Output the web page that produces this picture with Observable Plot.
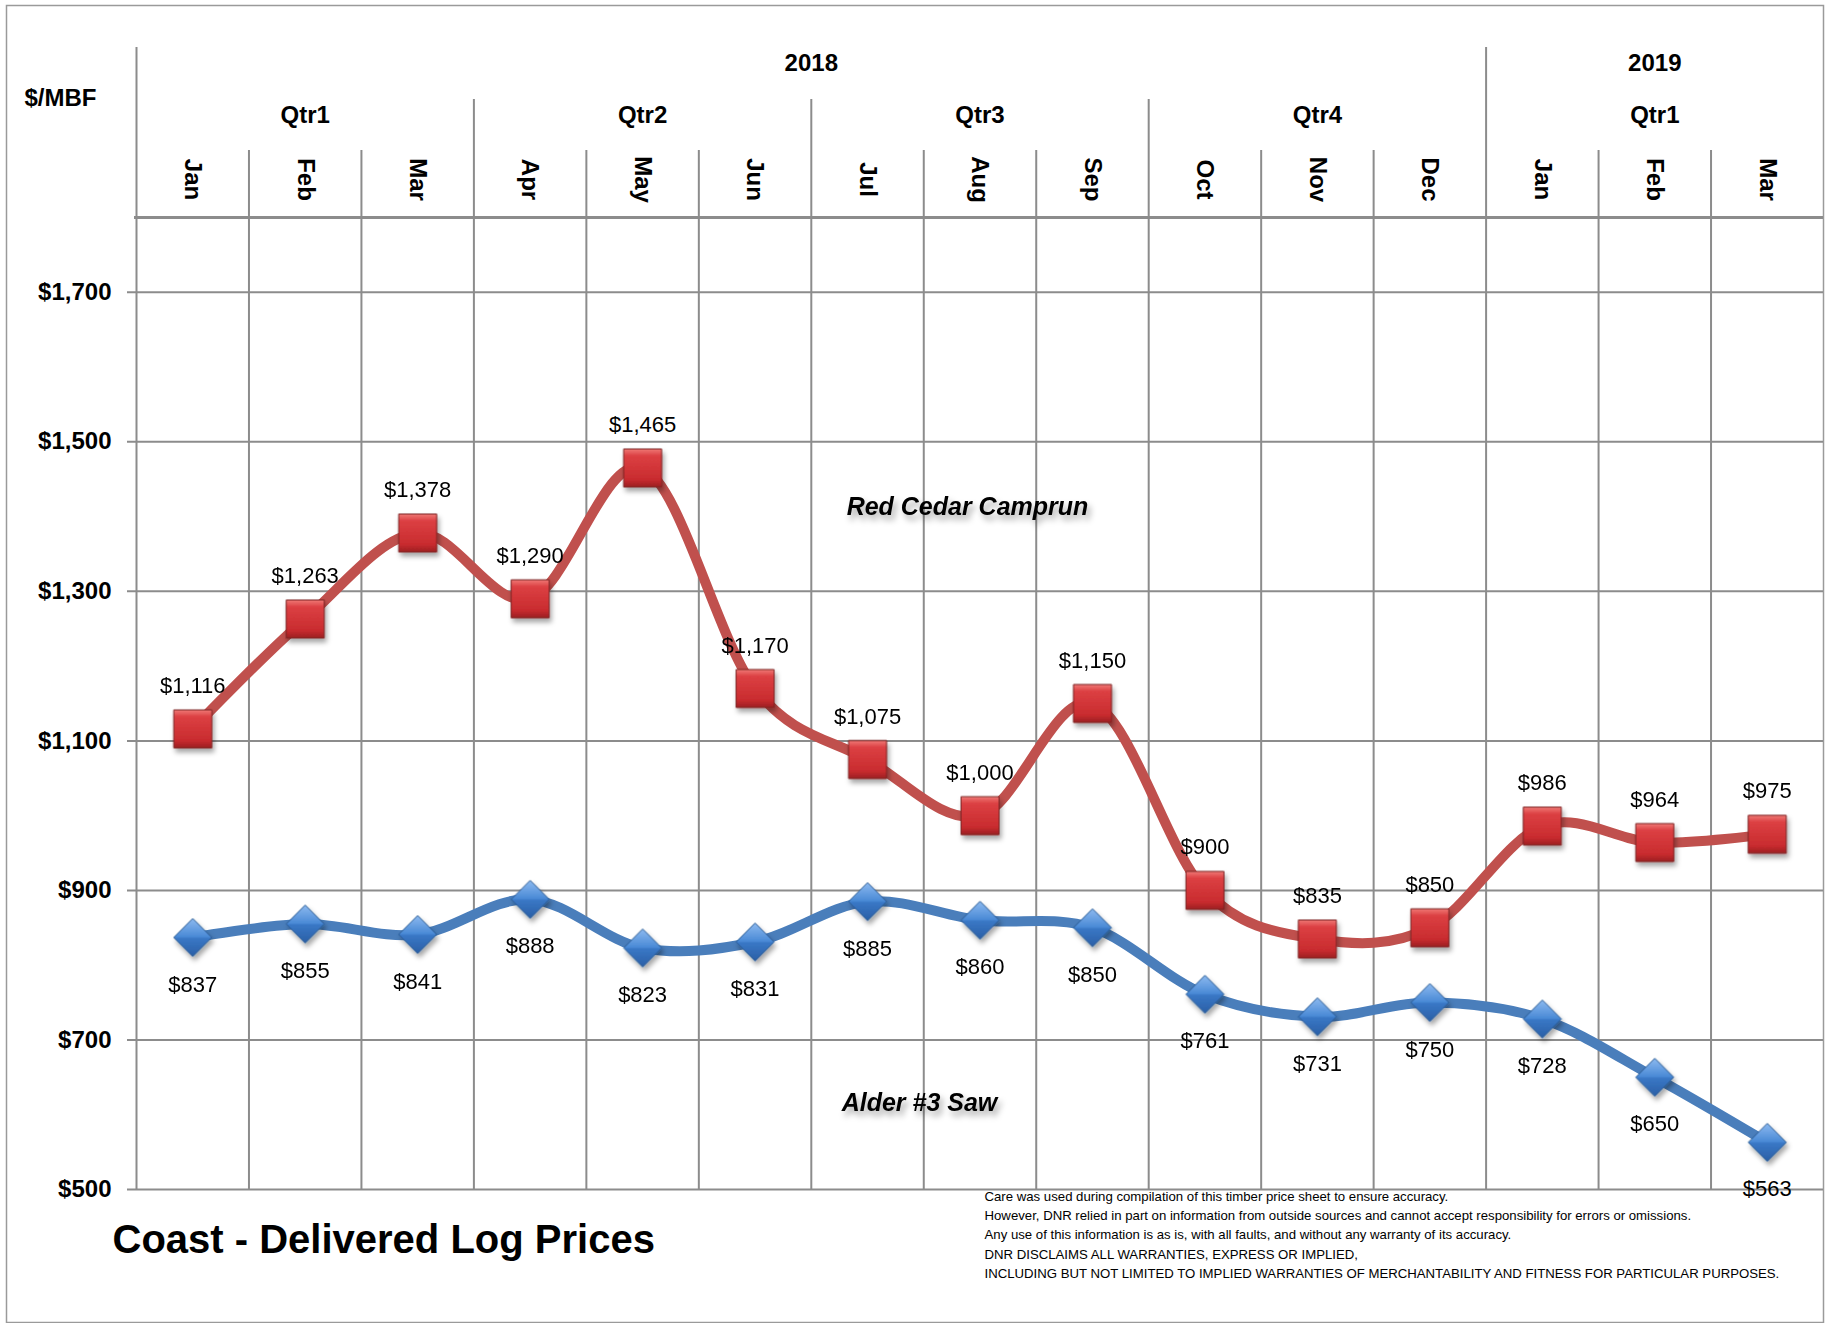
<!DOCTYPE html>
<html>
<head>
<meta charset="utf-8">
<script src="https://cdn.jsdelivr.net/npm/d3@7"></script>
<script src="https://cdn.jsdelivr.net/npm/@observablehq/plot@0.6"></script>
<style>
  html, body { margin: 0; padding: 0; background: #fff; }
  #chart svg { display: block; }
</style>
</head>
<body>
<div id="chart"></div>
<script>
// ---------- data ----------
const months = ["Jan","Feb","Mar","Apr","May","Jun","Jul","Aug","Sep","Oct","Nov","Dec","Jan","Feb","Mar"];
const quarterLabels = ["Qtr1","Qtr2","Qtr3","Qtr4","Qtr1"];
const monthsPerQuarter = 3;
const yearLabels = ["2018","2019"];
const monthsPerYear = [12, 3];
const redCedar = [1116,1263,1378,1290,1465,1170,1075,1000,1150,900,835,850,986,964,975];
const alder    = [837,855,841,888,823,831,885,860,850,761,731,750,728,650,563];
const yTicks = [500,700,900,1100,1300,1500,1700];
const seriesNames = ["Red Cedar Camprun","Alder #3 Saw"];
const chartTitle = "Coast - Delivered Log Prices";
const unitLabel = "$/MBF";
const disclaimer = [
  "Care was used during compilation of this timber price sheet to ensure accuracy.",
  "However, DNR relied in part on information from outside sources and cannot accept responsibility for errors or omissions.",
  "Any use of this information is as is, with all faults, and without any warranty of its accuracy.",
  "DNR DISCLAIMS ALL WARRANTIES, EXPRESS OR IMPLIED,",
  "INCLUDING BUT NOT LIMITED TO IMPLIED WARRANTIES OF MERCHANTABILITY AND FITNESS FOR PARTICULAR PURPOSES."
];

// ---------- derived tables ----------
const rows = months.map((m, i) => ({i, pos: i + 0.5, month: m, red: redCedar[i], alder: alder[i]}));
const quarters = quarterLabels.map((q, k) => ({label: q, pos: k * monthsPerQuarter + monthsPerQuarter / 2}));
let acc = 0;
const years = yearLabels.map((y, k) => { const p = acc + monthsPerYear[k] / 2; acc += monthsPerYear[k]; return {label: y, pos: p}; });
const yearBounds = [0, monthsPerYear[0]];
const quarterBounds = d3.range(monthsPerQuarter, months.length, monthsPerQuarter).filter(b => !yearBounds.includes(b));
const monthBounds = d3.range(1, months.length).filter(b => b % monthsPerQuarter !== 0);
const money = d => "$" + d3.format(",")(d);

const FONT = "'Liberation Sans', Arial, sans-serif";
const GRID = "#8c8c8c";

const sq = {draw(ctx, size){ const h = Math.sqrt(size / Math.PI); ctx.moveTo(-h,-h); ctx.lineTo(h,-h); ctx.lineTo(h,h); ctx.lineTo(-h,h); ctx.closePath(); }};
const dia = {draw(ctx, size){ const h = Math.sqrt(size / Math.PI); ctx.moveTo(0,-h); ctx.lineTo(h,0); ctx.lineTo(0,h); ctx.lineTo(-h,0); ctx.closePath(); }};

const chart = Plot.plot({
  width: 1826,
  height: 1323,
  marginLeft: 136,
  marginRight: 3,
  marginTop: 217,
  marginBottom: 134,
  style: {fontFamily: FONT, background: "white", color: "black"},
  x: {domain: [0, months.length], axis: null},
  y: {domain: [500, 1800], axis: null},
  marks: [
    // outer border
    Plot.frame({stroke: "#9a9a9a", strokeWidth: 1.5, insetLeft: -130, insetTop: -212, insetBottom: -133, insetRight: 0}),
    // horizontal gridlines with tick stubs
    Plot.ruleY(yTicks, {y: d => d, insetLeft: -9, stroke: GRID, strokeWidth: 2}),
    Plot.ruleY([1800], {y: d => d, insetLeft: -2, stroke: GRID, strokeWidth: 3}),
    // vertical gridlines and header separators
    Plot.ruleX(monthBounds, {x: d => d, insetTop: -67, stroke: GRID, strokeWidth: 2}),
    Plot.ruleX(quarterBounds, {x: d => d, insetTop: -118, stroke: GRID, strokeWidth: 2}),
    Plot.ruleX(yearBounds, {x: d => d, insetTop: -170, stroke: GRID, strokeWidth: 2}),
    // lines
    Plot.line(rows, {x: "pos", y: "red", curve: "cardinal", stroke: "#c0504d", strokeWidth: 10, strokeLinejoin: "round"}),
    Plot.line(rows, {x: "pos", y: "alder", curve: "cardinal", stroke: "#4a7ebb", strokeWidth: 10, strokeLinejoin: "round"}),
    // markers
    Plot.dot(rows, {x: "pos", y: "red", symbol: sq, r: 19, fill: "url(#redGrad)", stroke: "#7d2424", strokeWidth: 1, ariaDescription: "shadowed"}),
    Plot.dot(rows, {x: "pos", y: "alder", symbol: dia, r: 19, fill: "url(#blueGrad)", stroke: "#2a5a92", strokeWidth: 1, ariaDescription: "shadowed"}),
    // value labels
    Plot.text(rows, {x: "pos", y: "red", text: d => money(d.red), dy: -43, fontSize: 22, fill: "black"}),
    Plot.text(rows, {x: "pos", y: "alder", text: d => money(d.alder), dy: 47, fontSize: 22, fill: "black"}),
    // header labels
    Plot.text(rows, {x: "pos", frameAnchor: "top", text: "month", rotate: 90, textAnchor: "middle", lineAnchor: "middle", dy: -38, fontSize: 24, fontWeight: "bold"}),
    Plot.text(quarters, {x: "pos", frameAnchor: "top", text: "label", textAnchor: "middle", lineAnchor: "middle", dy: -102, fontSize: 24, fontWeight: "bold"}),
    Plot.text(years, {x: "pos", frameAnchor: "top", text: "label", textAnchor: "middle", lineAnchor: "middle", dy: -154, fontSize: 24, fontWeight: "bold"}),
    // y tick labels
    Plot.text(yTicks, {y: d => d, frameAnchor: "left", text: d => money(d), textAnchor: "end", lineAnchor: "middle", dx: -25, fontSize: 24, fontWeight: "bold"}),
    // unit label
    Plot.text([unitLabel], {frameAnchor: "top-left", text: d => d, textAnchor: "middle", lineAnchor: "middle", dx: -76, dy: -119, fontSize: 24, fontWeight: "bold"}),
    // series labels
    Plot.text([seriesNames[0]], {frameAnchor: "top-left", text: d => d, textAnchor: "middle", lineAnchor: "middle", dx: 831, dy: 289, fontSize: 25, fontWeight: "bold", fontStyle: "italic", ariaDescription: "shadowtext"}),
    Plot.text([seriesNames[1]], {frameAnchor: "top-left", text: d => d, textAnchor: "middle", lineAnchor: "middle", dx: 783, dy: 885, fontSize: 25, fontWeight: "bold", fontStyle: "italic", ariaDescription: "shadowtext"}),
    // title
    Plot.text([chartTitle], {frameAnchor: "bottom-left", text: d => d, textAnchor: "start", lineAnchor: "middle", dx: -24, dy: 51, fontSize: 40, fontWeight: "bold"}),
    // disclaimer
    Plot.text([disclaimer.join("\n")], {frameAnchor: "bottom-left", text: d => d, textAnchor: "start", lineAnchor: "top", lineHeight: 1.45, dx: 848, dy: -2, fontSize: 13.2})
  ]
});

// defs: gradients and shadows
const svgSel = d3.select(chart);
const defs = svgSel.insert("defs", ":first-child");
const rg = defs.append("linearGradient").attr("id", "redGrad").attr("x1", 0).attr("y1", 0).attr("x2", 0).attr("y2", 1);
rg.append("stop").attr("offset", "0%").attr("stop-color", "#f07a76");
rg.append("stop").attr("offset", "18%").attr("stop-color", "#dc4043");
rg.append("stop").attr("offset", "80%").attr("stop-color", "#c92c2f");
rg.append("stop").attr("offset", "100%").attr("stop-color", "#9c1f22");
const bg = defs.append("linearGradient").attr("id", "blueGrad").attr("x1", 0).attr("y1", 0).attr("x2", 0).attr("y2", 1);
bg.append("stop").attr("offset", "0%").attr("stop-color", "#8dbaf0");
bg.append("stop").attr("offset", "48%").attr("stop-color", "#4a8ad6");
bg.append("stop").attr("offset", "52%").attr("stop-color", "#3a78c6");
bg.append("stop").attr("offset", "100%").attr("stop-color", "#2a5fa6");
const f1 = defs.append("filter").attr("id", "mshadow").attr("x", "-50%").attr("y", "-50%").attr("width", "200%").attr("height", "200%");
f1.append("feDropShadow").attr("dx", 2).attr("dy", 4).attr("stdDeviation", 2.5).attr("flood-color", "#000").attr("flood-opacity", 0.35);
const f2 = defs.append("filter").attr("id", "tshadow").attr("x", "-20%").attr("y", "-50%").attr("width", "140%").attr("height", "200%");
f2.append("feDropShadow").attr("dx", 3).attr("dy", 5).attr("stdDeviation", 3).attr("flood-color", "#000").attr("flood-opacity", 0.35);
svgSel.selectAll('g[aria-description="shadowed"]').attr("filter", "url(#mshadow)");
svgSel.selectAll('g[aria-description="shadowtext"]').attr("filter", "url(#tshadow)");

document.getElementById("chart").appendChild(chart);
</script>
</body>
</html>
